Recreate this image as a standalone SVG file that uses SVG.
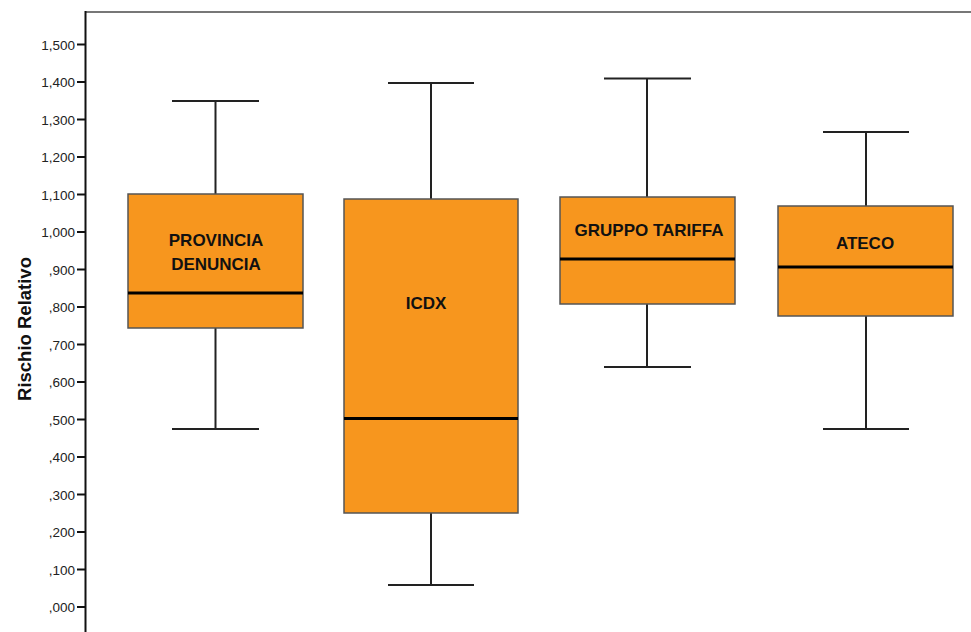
<svg xmlns="http://www.w3.org/2000/svg" width="971" height="632" viewBox="0 0 971 632">
<style>
.tick{stroke:#111;stroke-width:2}
.tl{font-family:"Liberation Sans",Arial,sans-serif;font-size:13.5px;fill:#222;text-anchor:end}
.box{fill:#F7961E;stroke:#555;stroke-width:1.5}
.med{stroke:#000;stroke-width:3}
.wh{stroke:#222;stroke-width:2;fill:none}
.lab{font-family:"Liberation Sans",Arial,sans-serif;font-size:17px;font-weight:bold;fill:#111;text-anchor:middle}
</style>
<rect width="971" height="632" fill="#fff"/>
<g id="axis">
<line x1="85" y1="12" x2="971" y2="12" stroke="#777" stroke-width="2"/>
<line x1="85.5" y1="11" x2="85.5" y2="632" stroke="#111" stroke-width="2"/>
<g class="ticks">
<line class="tick" x1="77" y1="44.5" x2="86" y2="44.5"/><text class="tl" x="75" y="49.5">1,500</text>
<line class="tick" x1="77" y1="82" x2="86" y2="82"/><text class="tl" x="75" y="87">1,400</text>
<line class="tick" x1="77" y1="119.5" x2="86" y2="119.5"/><text class="tl" x="75" y="124.5">1,300</text>
<line class="tick" x1="77" y1="157" x2="86" y2="157"/><text class="tl" x="75" y="162">1,200</text>
<line class="tick" x1="77" y1="194.5" x2="86" y2="194.5"/><text class="tl" x="75" y="199.5">1,100</text>
<line class="tick" x1="77" y1="232" x2="86" y2="232"/><text class="tl" x="75" y="237">1,000</text>
<line class="tick" x1="77" y1="269.5" x2="86" y2="269.5"/><text class="tl" x="75" y="274.5">,900</text>
<line class="tick" x1="77" y1="307" x2="86" y2="307"/><text class="tl" x="75" y="312">,800</text>
<line class="tick" x1="77" y1="344.5" x2="86" y2="344.5"/><text class="tl" x="75" y="349.5">,700</text>
<line class="tick" x1="77" y1="382" x2="86" y2="382"/><text class="tl" x="75" y="387">,600</text>
<line class="tick" x1="77" y1="419.5" x2="86" y2="419.5"/><text class="tl" x="75" y="424.5">,500</text>
<line class="tick" x1="77" y1="457" x2="86" y2="457"/><text class="tl" x="75" y="462">,400</text>
<line class="tick" x1="77" y1="494.5" x2="86" y2="494.5"/><text class="tl" x="75" y="499.5">,300</text>
<line class="tick" x1="77" y1="532" x2="86" y2="532"/><text class="tl" x="75" y="537">,200</text>
<line class="tick" x1="77" y1="569.5" x2="86" y2="569.5"/><text class="tl" x="75" y="574.5">,100</text>
<line class="tick" x1="77" y1="607" x2="86" y2="607"/><text class="tl" x="75" y="612">,000</text>
</g>
<text x="0" y="0" transform="translate(31,329) rotate(-90)" font-family="Liberation Sans,Arial,sans-serif" font-size="18.5" font-weight="bold" fill="#111" text-anchor="middle">Rischio Relativo</text>
</g>
<g id="connectors">
<path class="wh" d="M215.5 101V194M172 101H259M215.5 328V429M172 429H259"/>
<path class="wh" d="M431 83V199M388 83H474M431 513V585M388 585H474"/>
<path class="wh" d="M647 78.5V197M604 78.5H691M647 304V367M604 367H691"/>
<path class="wh" d="M866 132V206M823 132H909M866 316V429M823 429H909"/>
</g>
<g id="provincia">
<rect class="box" x="128" y="194" width="175" height="134"/>
<line class="med" x1="128" y1="293" x2="303" y2="293"/>
<text class="lab" x="216" y="245.5">PROVINCIA</text>
<text class="lab" x="216" y="269.5">DENUNCIA</text>
</g>
<g id="icdx">
<rect class="box" x="344" y="199" width="174" height="314"/>
<line class="med" x1="344" y1="418.5" x2="518" y2="418.5"/>
<text class="lab" x="426" y="308.5">ICDX</text>
</g>
<g id="gruppo">
<rect class="box" x="560" y="197" width="175" height="107"/>
<line class="med" x1="560" y1="259" x2="735" y2="259"/>
<text class="lab" x="649" y="235.5">GRUPPO TARIFFA</text>
</g>
<g id="ateco">
<rect class="box" x="778" y="206" width="175" height="110"/>
<line class="med" x1="778" y1="267" x2="953" y2="267"/>
<text class="lab" x="865" y="248.5">ATECO</text>
</g>
</svg>
